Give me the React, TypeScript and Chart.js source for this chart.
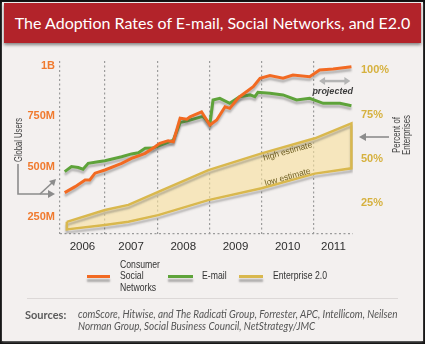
import React, { useEffect, useRef } from "react";
import { Chart, registerables } from "chart.js";

Chart.register(...registerables);

// ---------- data ----------
const TITLE = "The Adoption Rates of E-mail, Social Networks, and E2.0";
const yearLabels = ["2006", "2007", "2008", "2009", "2010", "2011"];
const xMin = 2006.14;
const xMax = 2011.75;

const userTicks = [250, 500, 750, 1000];
const userTickLabels = ["250M", "500M", "750M", "1B"];
const usersMin = 164;
const usersMax = 1026;

const pctTicks = [25, 50, 75, 100];
const pctMin = 7.3;
const pctMax = 105.3;

const socialYears = [2006.23, 2006.43, 2006.62, 2006.71, 2006.81, 2007.0, 2007.32, 2007.51, 2007.77, 2007.96, 2008.05, 2008.21, 2008.31, 2008.44, 2008.57, 2008.63, 2008.85, 2009.01, 2009.14, 2009.3, 2009.39, 2009.52, 2009.58, 2009.84, 2009.97, 2010.16, 2010.41, 2010.6, 2010.92, 2011.11, 2011.37, 2011.72];
const socialUsers = [370, 400, 433, 433, 467, 483, 516, 541, 566, 599, 616, 629, 624, 741, 736, 748, 773, 707, 732, 798, 790, 832, 848, 898, 940, 953, 940, 956, 948, 981, 986, 997];

const emailYears = [2006.23, 2006.36, 2006.49, 2006.58, 2006.68, 2006.87, 2007.0, 2007.32, 2007.51, 2007.64, 2007.77, 2007.92, 2008.18, 2008.31, 2008.44, 2008.63, 2008.88, 2009.01, 2009.07, 2009.2, 2009.39, 2009.58, 2009.78, 2009.87, 2009.93, 2010.16, 2010.41, 2010.67, 2010.92, 2011.18, 2011.5, 2011.72];
const emailUsers = [475, 500, 495, 487, 516, 524, 529, 549, 563, 569, 591, 592, 618, 632, 719, 732, 750, 712, 832, 840, 815, 848, 857, 848, 870, 865, 857, 832, 840, 815, 815, 803];

const e2Years = [2006.27, 2007.0, 2007.45, 2008.02, 2008.98, 2010.0, 2011.02, 2011.72];
const e2High = [14.2, 20.9, 23.8, 31.2, 43.5, 53.0, 61.5, 70.0];
const e2Low = [9.9, 12.4, 14.2, 18.0, 26.5, 33.2, 41.5, 44.5];

const bandNotes = [
  { text: "high estimate", x: 2010.5, y: 54.0, line: e2High },
  { text: "low estimate", x: 2010.5, y: 39.5, line: e2Low },
];
const projected = { text: "projected", from: 2011.1, to: 2011.7, arrowY: 926, textX: 2011.36, textY: 876 };

const COL_SOCIAL = "#f26a22";
const COL_EMAIL = "#5ea33a";
const COL_E2 = "#d9b84e";
const COL_E2_FILL = "rgba(247, 224, 158, 0.62)";

const SANS = '"Liberation Sans", Arial, sans-serif';

function fitScale(text: string, font: string, target: number) {
  const c = document.createElement("canvas").getContext("2d");
  if (!c) return 1;
  c.font = font;
  const w = c.measureText(text).width;
  return w > 0 ? target / w : 1;
}

// ---------- plugins ----------
const shadowPlugin = {
  id: "lineShadow",
  beforeDatasetDraw(chart: any) {
    const ctx = chart.ctx;
    ctx.save();
    ctx.shadowColor = "rgba(70,70,70,0.35)";
    ctx.shadowBlur = 2;
    ctx.shadowOffsetX = 0;
    ctx.shadowOffsetY = 3;
  },
  afterDatasetDraw(chart: any) {
    chart.ctx.restore();
  },
};

const notesPlugin = {
  id: "notes",
  afterDatasetsDraw(chart: any) {
    const { ctx, scales } = chart;
    const sx = scales.x;
    const sR = scales.yR;
    const sL = scales.yL;
    ctx.save();
    ctx.fillStyle = "#6e5d20";
    ctx.font = '8.5px "Liberation Sans", sans-serif';
    ctx.textAlign = "center";
    ctx.textBaseline = "middle";
    bandNotes.forEach((n) => {
      const dx = sx.getPixelForValue(e2Years[6]) - sx.getPixelForValue(e2Years[5]);
      const dy = sR.getPixelForValue(n.line[6]) - sR.getPixelForValue(n.line[5]);
      ctx.save();
      ctx.translate(sx.getPixelForValue(n.x), sR.getPixelForValue(n.y));
      ctx.rotate(Math.atan2(dy, dx));
      ctx.fillText(n.text, 0, 0);
      ctx.restore();
    });
    // projected double arrow
    const x1 = sx.getPixelForValue(projected.from);
    const x2 = sx.getPixelForValue(projected.to);
    const y = sL.getPixelForValue(projected.arrowY);
    ctx.strokeStyle = "#b4b4b4";
    ctx.fillStyle = "#b4b4b4";
    ctx.lineWidth = 2.5;
    ctx.beginPath();
    ctx.moveTo(x1 + 4, y);
    ctx.lineTo(x2 - 4, y);
    ctx.stroke();
    ctx.beginPath();
    ctx.moveTo(x1, y);
    ctx.lineTo(x1 + 6, y - 4);
    ctx.lineTo(x1 + 6, y + 4);
    ctx.closePath();
    ctx.fill();
    ctx.beginPath();
    ctx.moveTo(x2, y);
    ctx.lineTo(x2 - 6, y - 4);
    ctx.lineTo(x2 - 6, y + 4);
    ctx.closePath();
    ctx.fill();
    ctx.fillStyle = "#3d3d3d";
    ctx.font = 'italic bold 9px "Liberation Sans", sans-serif';
    ctx.fillText(projected.text, sx.getPixelForValue(projected.textX), sL.getPixelForValue(projected.textY));
    ctx.restore();
  },
};

function ChartCanvas() {
  const ref = useRef<HTMLCanvasElement | null>(null);
  useEffect(() => {
    if (!ref.current) return;
    const social = socialYears.map((x, i) => ({ x, y: socialUsers[i] }));
    const email = emailYears.map((x, i) => ({ x, y: emailUsers[i] }));
    const highPts = e2Years.map((x, i) => ({ x, y: e2High[i] }));
    const lowPts = e2Years.map((x, i) => ({ x, y: e2Low[i] })).reverse();
    const band = [...highPts, ...lowPts, highPts[0]];
    const labelPos = yearLabels.map((y) => (Math.max(+y, xMin) + Math.min(+y + 1, xMax)) / 2);

    const gridGrey = "#9b9b9b";
    const chart = new Chart(ref.current, {
      type: "line",
      data: {
        datasets: [
          {
            label: "Consumer Social Networks",
            data: social,
            xAxisID: "x",
            yAxisID: "yL",
            borderColor: COL_SOCIAL,
            borderWidth: 3,
            pointRadius: 0,
            tension: 0,
            fill: false,
          },
          {
            label: "E-mail",
            data: email,
            xAxisID: "x",
            yAxisID: "yL",
            borderColor: COL_EMAIL,
            borderWidth: 3,
            pointRadius: 0,
            tension: 0,
            fill: false,
          },
          {
            label: "Enterprise 2.0",
            data: band,
            xAxisID: "x",
            yAxisID: "yR",
            borderColor: COL_E2,
            backgroundColor: COL_E2_FILL,
            borderWidth: 2.5,
            pointRadius: 0,
            tension: 0,
            fill: "shape",
          },
        ],
      } as any,
      options: {
        responsive: false,
        maintainAspectRatio: false,
        animation: false,
        devicePixelRatio: 1,
        layout: { padding: { top: 17, left: 0, right: 0, bottom: 0 } },
        plugins: {
          legend: { display: false },
          tooltip: { enabled: false },
        },
        scales: {
          x: {
            type: "linear",
            position: "bottom",
            weight: 0,
            min: xMin,
            max: xMax,
            afterBuildTicks: (s: any) => {
              s.ticks = [xMin, 2007, 2008, 2009, 2010, 2011].map((v) => ({ value: v }));
            },
            afterFit: (s: any) => {
              s.height = 0;
            },
            ticks: { display: false },
            grid: { color: gridGrey, lineWidth: 1.2, drawTicks: false },
            border: { display: false, dash: [2, 2.5] },
          },
          x2: {
            type: "linear",
            position: "bottom",
            weight: 1,
            min: xMin,
            max: xMax,
            afterBuildTicks: (s: any) => {
              s.ticks = labelPos.map((v) => ({ value: v }));
            },
            afterFit: (s: any) => {
              s.height = 26;
            },
            ticks: {
              autoSkip: false,
              maxRotation: 0,
              padding: 6,
              color: "#2e2e2e",
              font: { family: SANS, size: 11.5 },
              callback: (_v: any, i: number) => yearLabels[i],
            },
            grid: { display: false, drawTicks: false },
            border: { display: false },
          },
          yL: {
            type: "linear",
            position: "left",
            min: usersMin,
            max: usersMax,
            afterBuildTicks: (s: any) => {
              s.ticks = [usersMin, ...userTicks].map((v) => ({ value: v }));
            },
            afterFit: (s: any) => {
              s.width = 60;
            },
            ticks: {
              padding: 5,
              color: "#f07a2e",
              font: { family: SANS, size: 11, weight: "bold" },
              callback: (v: any) => {
                const i = userTicks.indexOf(v);
                return i >= 0 ? userTickLabels[i] : "";
              },
            },
            grid: {
              drawTicks: false,
              lineWidth: 1.2,
              color: (c: any) => (c.tick && c.tick.value === usersMin ? gridGrey : "rgba(0,0,0,0)"),
            },
            border: { display: false, dash: [2, 2.5] },
          },
          yR: {
            type: "linear",
            position: "right",
            min: pctMin,
            max: pctMax,
            afterBuildTicks: (s: any) => {
              s.ticks = pctTicks.map((v) => ({ value: v }));
            },
            afterFit: (s: any) => {
              s.width = 72;
            },
            ticks: {
              padding: 8,
              color: "#d6b13e",
              font: { family: SANS, size: 11, weight: "bold" },
              callback: (v: any) => v + "%",
            },
            grid: { display: false, drawTicks: false },
            border: { display: false },
          },
        },
      } as any,
      plugins: [shadowPlugin, notesPlugin],
    });
    return () => chart.destroy();
  }, []);
  return <canvas ref={ref} width={425} height={216} style={{ position: "absolute", left: 0, top: 0, width: 425, height: 216 }} />;
}

const legendItems = [
  { lines: ["Consumer", "Social", "Networks"], color: COL_SOCIAL, sw: 87, swW: 23, tx: 120 },
  { lines: ["E-mail"], color: COL_EMAIL, sw: 168, swW: 25, tx: 202 },
  { lines: ["Enterprise 2.0"], color: COL_E2, sw: 239, swW: 24, tx: 273 },
];

const SOURCES_1 = "comScore, Hitwise, and The Radicati Group, Forrester, APC, Intellicom, Neilsen";
const SOURCES_2 = "Norman Group, Social Business Council, NetStrategy/JMC";

export default function App() {
  const grey = "#8c8c8c";
  const legendFont = '11px "Liberation Sans", sans-serif';
  const legendScale = fitScale("Consumer", legendFont, 40);
  const srcFont = 'italic 11px Lato, sans-serif';
  const srcScale = fitScale(SOURCES_1, srcFont, 320);
  const axisFont = '10px "Liberation Sans", sans-serif';
  const guScale = fitScale("Global Users", axisFont, 44);
  const peScale = fitScale("Enterprises", axisFont, 40);
  return (
    <div
      style={{
        position: "fixed",
        left: 0,
        top: 0,
        width: 425,
        height: 344,
        background: "#111",
        overflow: "hidden",
        fontFamily: SANS,
      }}
    >
      <div style={{ position: "absolute", left: 2, top: 2, width: 421, height: 339, background: "#f3f0ef", boxShadow: "0 1px 2px #777" }} />
      {/* title bar */}
      <div
        style={{
          position: "absolute",
          left: 4,
          top: 3,
          width: 417,
          height: 40,
          background: "#b2232a",
          boxShadow: "0 2px 3px rgba(0,0,0,0.45)",
          color: "#fff",
          fontFamily: "Lato, 'Open Sans', sans-serif",
          fontSize: 16,
          lineHeight: "40px",
          textAlign: "center",
          whiteSpace: "nowrap",
        }}
      >
        {TITLE}
      </div>

      {/* chart */}
      <div style={{ position: "absolute", left: 0, top: 44, width: 425, height: 216 }}>
        <ChartCanvas />
      </div>

      {/* left axis title + arrow */}
      <div
        style={{
          position: "absolute",
          left: 18,
          top: 140,
          transform: `translate(-50%,-50%) rotate(-90deg) scaleX(${guScale})`,
          font: axisFont,
          color: "#444",
          whiteSpace: "nowrap",
        }}
      >
        Global Users
      </div>
      <svg style={{ position: "absolute", left: 0, top: 0 }} width={425} height={344}>
        <g stroke={grey} strokeWidth={1.6} fill="none">
          <polyline points="18,164 18,194 50,194" />
          <line x1={40} y1={194} x2={53} y2={182} />
          <line x1={389} y1={137} x2={364} y2={137} />
        </g>
        <g fill={grey}>
          <polygon points="55,194 48,190 48,198" />
          <polygon points="56,179 49,181 54,186" />
          <polygon points="359,137 366,133 366,141" />
        </g>
      </svg>

      {/* right axis title */}
      <div
        style={{
          position: "absolute",
          left: 402,
          top: 135,
          transform: `translate(-50%,-50%) rotate(-90deg) scaleX(${peScale})`,
          font: axisFont,
          lineHeight: "10px",
          color: "#444",
          whiteSpace: "nowrap",
          textAlign: "center",
        }}
      >
        Percent of
        <br />
        Enterprises
      </div>

      {/* legend */}
      {legendItems.map((it) => (
        <React.Fragment key={it.lines.join(" ")}>
          <div
            style={{
              position: "absolute",
              left: it.sw,
              top: 275,
              width: it.swW,
              height: 3,
              background: it.color,
              boxShadow: "0 4px 2px rgba(90,90,90,0.45)",
            }}
          />
          <div
            style={{
              position: "absolute",
              left: it.tx,
              top: 276 - (it.lines.length * 11.5) / 2,
              font: legendFont,
              lineHeight: "11.5px",
              color: "#333",
              whiteSpace: "nowrap",
              transform: `scaleX(${legendScale})`,
              transformOrigin: "left center",
            }}
          >
            {it.lines.map((l, i) => (
              <div key={i}>{l}</div>
            ))}
          </div>
        </React.Fragment>
      ))}

      {/* separator */}
      <div style={{ position: "absolute", left: 27, top: 298, width: 371, height: 1, background: "#dcd8d7" }} />

      {/* sources */}
      <div
        style={{
          position: "absolute",
          left: 25,
          top: 308,
          fontSize: 11,
          fontWeight: "bold",
          color: "#5a5a5a",
          fontFamily: "Lato, sans-serif",
        }}
      >
        Sources:
      </div>
      <div
        style={{
          position: "absolute",
          left: 78,
          top: 308,
          font: srcFont,
          lineHeight: "12px",
          color: "#555",
          whiteSpace: "nowrap",
          transform: `scaleX(${srcScale})`,
          transformOrigin: "left top",
        }}
      >
        {SOURCES_1}
        <br />
        {SOURCES_2}
      </div>
    </div>
  );
}
